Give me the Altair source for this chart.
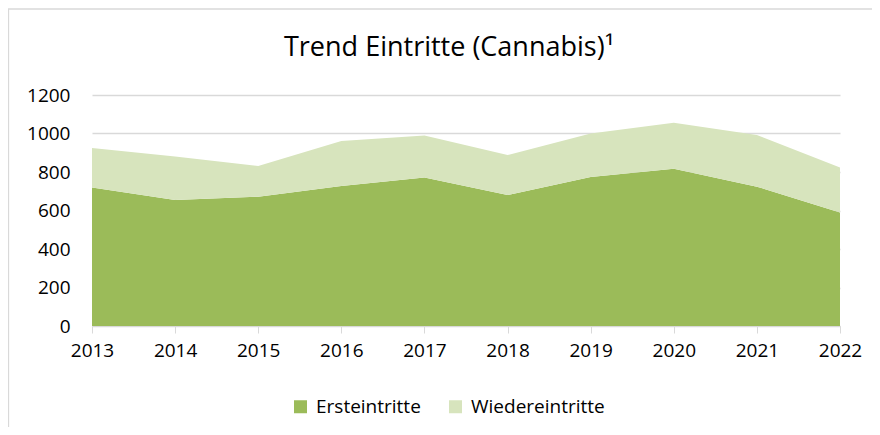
import altair as alt
import pandas as pd

years = ["2013", "2014", "2015", "2016", "2017", "2018", "2019", "2020", "2021", "2022"]
ersteintritte = [720, 655, 672, 727, 771, 680, 774, 817, 724, 589]
wiedereintritte = [205, 225, 159, 234, 218, 208, 226, 239, 268, 234]
series = ["Ersteintritte", "Wiedereintritte"]
colors = ["#9BBB59", "#D7E4BD"]
y_ticks = [0, 200, 400, 600, 800, 1000, 1200]
title_text = "Trend Eintritte (Cannabis)¹"

rows = []
for i, yr in enumerate(years):
    rows.append({"Jahr": yr, "Serie": series[0], "Wert": ersteintritte[i], "ord": 0})
    rows.append({"Jahr": yr, "Serie": series[1], "Wert": wiedereintritte[i], "ord": 1})
df = pd.DataFrame(rows)

FONT = "Open Sans"

area = alt.Chart(df).mark_area(opacity=1).encode(
    x=alt.X("Jahr:O", scale=alt.Scale(type="point", padding=0), sort=years,
            axis=alt.Axis(title=None, labelAngle=0, domainColor="#d9d9d9",
                          tickColor="#d9d9d9", tickSize=7, labelPadding=8,
                          labelFontSize=19, labelFont=FONT, labelColor="#000000")),
    y=alt.Y("Wert:Q", stack="zero", scale=alt.Scale(domain=[0, 1200], nice=False),
            axis=alt.Axis(title=None, values=y_ticks, format="d", domain=False, ticks=False,
                          labelPadding=22, gridColor="#d9d9d9", gridWidth=1.3,
                          labelFontSize=19, labelFont=FONT, labelColor="#000000")),
    color=alt.Color("Serie:N", scale=alt.Scale(domain=series, range=colors),
                    legend=alt.Legend(title=None, orient="none", direction="horizontal",
                                      legendX=199, legendY=302, symbolType="square",
                                      symbolSize=169, symbolStrokeWidth=0,
                                      labelFontSize=19, labelFont=FONT,
                                      labelColor="#000000", labelOffset=6,
                                      columnPadding=25)),
    order=alt.Order("ord:Q"),
)

one = pd.DataFrame({"a": [0]})
frame_left = alt.Chart(one).mark_rule(color="#d9d9d9", strokeWidth=1.3).encode(
    x=alt.value(-83.5), y=alt.value(-86), y2=alt.value(335))
frame_top = alt.Chart(one).mark_rule(color="#d9d9d9", strokeWidth=1.3).encode(
    y=alt.value(-86), x=alt.value(-84), x2=alt.value(785))
title = alt.Chart(one).mark_text(fontSize=27, font=FONT, color="#000000",
                                 align="center", baseline="alphabetic").encode(
    x=alt.value(357), y=alt.value(-39), text=alt.value(title_text))

chart = alt.layer(frame_left, frame_top, title, area).properties(
    width=748, height=231,
    autosize=alt.AutoSizeParams(type="none"),
    padding={"left": 84, "top": 87, "right": 32, "bottom": 101},
).configure_view(stroke=None)

chart.save("out.html", embed_options={"renderer": "svg", "actions": False})
